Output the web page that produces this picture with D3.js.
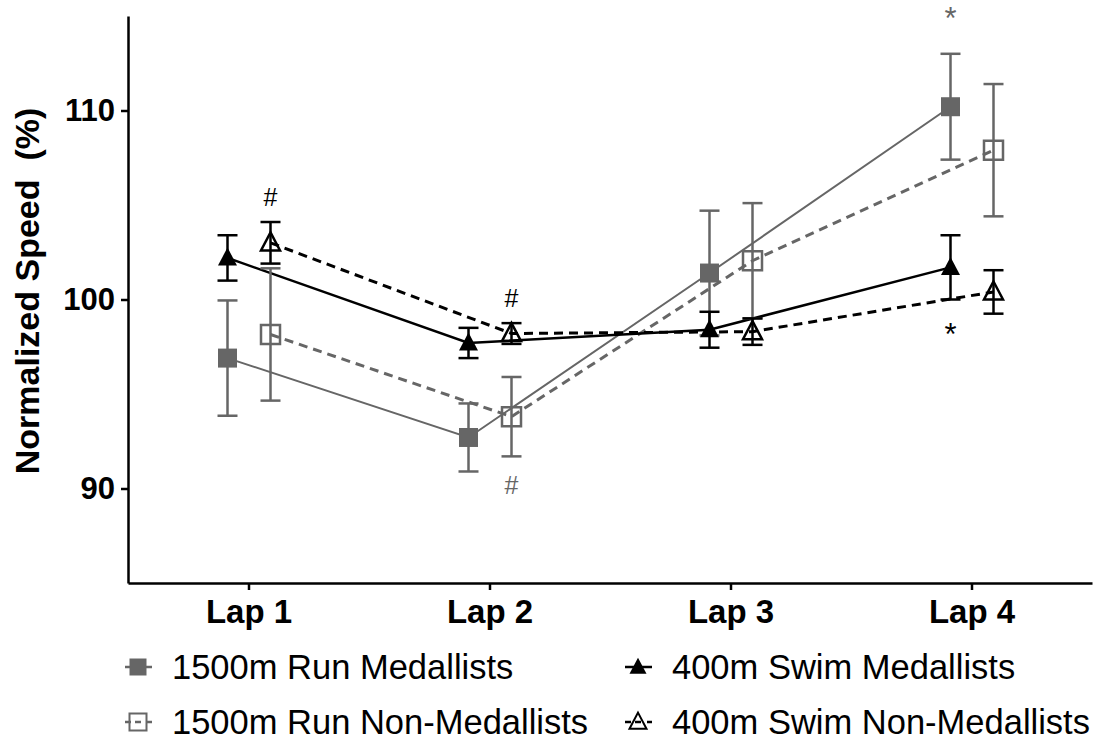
<!DOCTYPE html>
<html>
<head>
<meta charset="utf-8">
<script src="https://cdn.jsdelivr.net/npm/d3@7"></script>
<style>
  body { margin: 0; background: #fff; }
  svg { display: block; font-family: "Liberation Sans", Arial, sans-serif; }
</style>
</head>
<body>
<div id="chart"></div>
<script>
// values (mean and error bar half-length, % of normalized speed)
const laps = ["Lap 1", "Lap 2", "Lap 3", "Lap 4"];
const yTicks = [90, 100, 110];

const runMedMean = [96.9, 92.7, 101.4, 110.2];
const runMedErr = [3.05, 1.8, 3.3, 2.8];
const runNonMean = [98.15, 93.8, 102.05, 107.9];
const runNonErr = [3.5, 2.1, 3.05, 3.5];
const swimMedMean = [102.2, 97.7, 98.4, 101.7];
const swimMedErr = [1.2, 0.8, 0.95, 1.7];
const swimNonMean = [103.0, 98.2, 98.3, 100.4];
const swimNonErr = [1.1, 0.55, 0.7, 1.15];

const seriesNames = ["1500m Run Medallists", "1500m Run Non-Medallists",
                     "400m Swim Medallists", "400m Swim Non-Medallists"];

// significance marks: lap, side, y value of the mark centre, symbol
const markLaps = ["Lap 1", "Lap 2", "Lap 2", "Lap 4", "Lap 4"];
const markSide = ["non", "non", "non", "med", "med"];
const markY = [105.4, 100.1, 90.2, 115.2, 98.5];
const markText = ["#", "#", "#", "*", "*"];
const markSport = ["swim", "swim", "run", "run", "swim"];

const width = 1105, height = 744;
const gray = "#666666";

let svg = d3.select("#chart").append("svg")
  .attr("width", width)
  .attr("height", height);

let xScale = d3.scalePoint()
  .domain(laps)
  .range([128, 1092])
  .padding(0.5);

let sideScale = d3.scalePoint()
  .domain(["med", "non"])
  .range([-21, 22]);

let yScale = d3.scaleLinear()
  .domain([85, 115])
  .range([583, 16]);

let series = [
  {name: seriesNames[0], mean: runMedMean, err: runMedErr, side: "med", color: gray, shape: "square", filled: true, dash: null, lw: 2},
  {name: seriesNames[1], mean: runNonMean, err: runNonErr, side: "non", color: gray, shape: "square", filled: false, dash: "9,6", lw: 3},
  {name: seriesNames[2], mean: swimMedMean, err: swimMedErr, side: "med", color: "#000", shape: "triangle", filled: true, dash: null, lw: 2.5},
  {name: seriesNames[3], mean: swimNonMean, err: swimNonErr, side: "non", color: "#000", shape: "triangle", filled: false, dash: "9,6", lw: 3}
];

function xPos(lap, side) {
  return xScale(lap) + sideScale(side);
}

// axes
let yAxis = d3.axisLeft(yScale).tickValues(yTicks).tickSize(7).tickSizeOuter(0).tickPadding(6);
let yG = svg.append("g")
  .attr("transform", "translate(128,0)")
  .call(yAxis);
yG.select(".domain").attr("stroke-width", 2.5);
yG.selectAll(".tick line").attr("stroke-width", 2.5);
yG.selectAll(".tick text")
  .attr("font-size", 31)
  .attr("font-weight", "bold")
  .attr("font-family", "Liberation Sans, Arial, sans-serif")
  .attr("fill", "#000");

let xAxis = d3.axisBottom(xScale).tickSize(7).tickSizeOuter(0).tickPadding(10);
let xG = svg.append("g")
  .attr("transform", "translate(0,583)")
  .call(xAxis);
xG.select(".domain").attr("stroke-width", 2.5);
xG.selectAll(".tick line").attr("stroke-width", 2.5);
xG.selectAll(".tick text")
  .attr("font-size", 33)
  .attr("font-weight", "bold")
  .attr("font-family", "Liberation Sans, Arial, sans-serif")
  .attr("fill", "#000");

// y axis title
svg.append("text")
  .attr("transform", "translate(39,291) rotate(-90)")
  .attr("text-anchor", "middle")
  .attr("font-size", 34)
  .attr("font-weight", "bold")
  .style("white-space", "pre")
  .text("Normalized Speed  (%)");

let line = d3.line()
  .x((d, i) => xPos(laps[i], d.side))
  .y(d => yScale(d.v));

function markerPath(shape, s) {
  if (shape === "square") {
    return "M" + (-s / 2) + "," + (-s / 2) + "h" + s + "v" + s + "h" + (-s) + "Z";
  }
  let h = s * 0.95;
  return "M0," + (-h * 0.58) + "L" + (s / 2) + "," + (h * 0.42) + "L" + (-s / 2) + "," + (h * 0.42) + "Z";
}

// connecting lines
series.forEach(s => {
  svg.append("path")
    .datum(s.mean.map(v => ({v: v, side: s.side})))
    .attr("fill", "none")
    .attr("stroke", s.color)
    .attr("stroke-width", s.lw)
    .attr("stroke-dasharray", s.dash)
    .attr("d", line);
});

// error bars
series.forEach(s => {
  let g = svg.append("g").attr("stroke", s.color).attr("stroke-width", 2.5);
  laps.forEach((lap, i) => {
    let x = xPos(lap, s.side);
    let y1 = yScale(s.mean[i] + s.err[i]);
    let y2 = yScale(s.mean[i] - s.err[i]);
    g.append("line").attr("x1", x).attr("x2", x).attr("y1", y1).attr("y2", y2);
    g.append("line").attr("x1", x - 10).attr("x2", x + 10).attr("y1", y1).attr("y2", y1);
    g.append("line").attr("x1", x - 10).attr("x2", x + 10).attr("y1", y2).attr("y2", y2);
  });
});

// markers
series.forEach(s => {
  svg.append("g").selectAll("path")
    .data(s.mean)
    .enter()
    .append("path")
    .attr("transform", (d, i) => "translate(" + xPos(laps[i], s.side) + "," + yScale(d) + ")")
    .attr("d", markerPath(s.shape, 19))
    .attr("fill", s.filled ? s.color : "none")
    .attr("stroke", s.color)
    .attr("stroke-width", s.filled ? 0 : 2.5);
});

// significance marks
markText.forEach((t, i) => {
  svg.append("text")
    .attr("x", xPos(markLaps[i], markSide[i]))
    .attr("y", yScale(markY[i]))
    .attr("dy", t === "*" ? "0.55em" : "0.36em")
    .attr("text-anchor", "middle")
    .attr("font-size", t === "*" ? 31 : 25)
    .attr("fill", markSport[i] === "run" ? gray : "#000")
    .text(t);
});

// legend
let legendX = [138, 638];
let legendY = [667, 722];
series.forEach((s, i) => {
  let col = i < 2 ? 0 : 1;
  let row = i % 2;
  let g = svg.append("g")
    .attr("transform", "translate(" + legendX[col] + "," + legendY[row] + ")");
  if (s.filled) {
    g.append("line").attr("x1", -13).attr("x2", 14).attr("y1", 0).attr("y2", 0)
      .attr("stroke", s.color).attr("stroke-width", 2.5);
  } else {
    g.append("line").attr("x1", -13).attr("x2", -7).attr("y1", 0).attr("y2", 0)
      .attr("stroke", s.color).attr("stroke-width", 2.5);
    g.append("line").attr("x1", -3).attr("x2", 3).attr("y1", 0).attr("y2", 0)
      .attr("stroke", s.color).attr("stroke-width", 2.5);
    g.append("line").attr("x1", 9).attr("x2", 14).attr("y1", 0).attr("y2", 0)
      .attr("stroke", s.color).attr("stroke-width", 2.5);
  }
  g.append("path")
    .attr("d", markerPath(s.shape, 17))
    .attr("fill", s.filled ? s.color : "none")
    .attr("stroke", s.color)
    .attr("stroke-width", s.filled ? 0 : 2);
  g.append("text")
    .attr("x", 34)
    .attr("y", 0)
    .attr("dy", "0.36em")
    .attr("font-size", 34.5)
    .attr("fill", "#000")
    .text(s.name);
});
</script>
</body>
</html>
